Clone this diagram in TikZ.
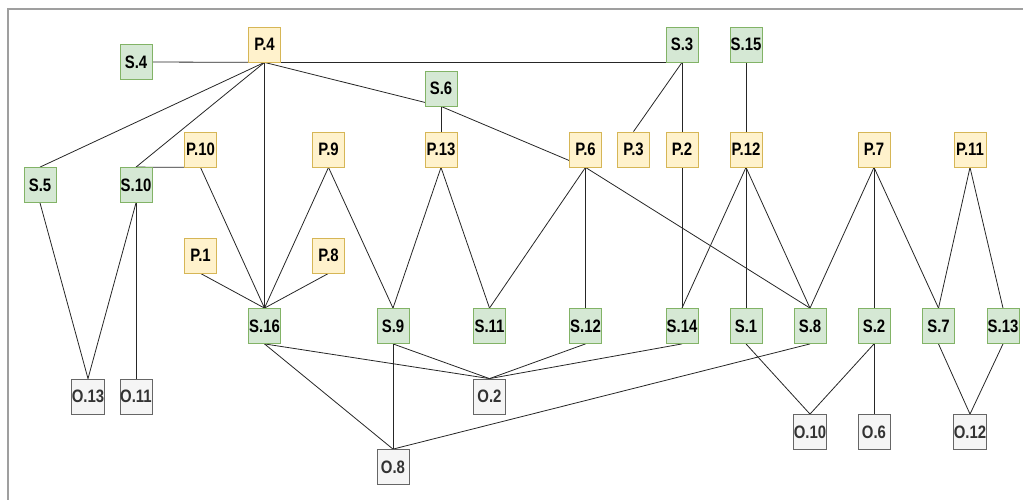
\documentclass[tikz,border=0pt]{standalone}
\usepackage{fontspec}
\setmainfont{Liberation Sans}
\newfontfamily\lblfont[FakeStretch=0.83]{Liberation Sans}
\usetikzlibrary{backgrounds}
\definecolor{gfill}{HTML}{D5E8D4}\definecolor{gdraw}{HTML}{82B366}
\definecolor{yfill}{HTML}{FFF2CC}\definecolor{ydraw}{HTML}{D6B656}
\definecolor{ofill}{HTML}{F5F5F5}\definecolor{odraw}{HTML}{666666}
\definecolor{otext}{HTML}{333333}
\tikzset{
  box/.style={minimum width=32pt,minimum height=35pt,inner sep=0pt,line width=0.8pt,font=\lblfont\fontsize{18}{20}\selectfont\bfseries},
  snode/.style={box,fill=gfill,draw=gdraw},
  pnode/.style={box,fill=yfill,draw=ydraw},
  onode/.style={box,fill=ofill,draw=odraw,text=otext},
  edge/.style={line width=0.8pt,draw=black!85},
}
\begin{document}
\begin{tikzpicture}[x=1pt,y=-1pt]
\useasboundingbox (0,0) rectangle (1023,499);
\draw[line width=1.5pt,draw=gray!75] (8,9) rectangle (1040,520);
% top
\node[pnode] (p4) at (264.5,44.5) {P.4};
\node[snode] (s3) at (682,44.5) {S.3};
\node[snode] (s15) at (746,44.5) {S.15};
\node[snode] (s4) at (136,62) {S.4};
\node[snode] (s6) at (441,88.5) {S.6};
% P row
\node[pnode] (p10) at (200.5,149.5) {P.10};
\node[pnode] (p9) at (328.5,149.5) {P.9};
\node[pnode] (p13) at (441,149.5) {P.13};
\node[pnode] (p6) at (585.5,149.5) {P.6};
\node[pnode] (p3) at (633.5,149.5) {P.3};
\node[pnode] (p2) at (682,149.5) {P.2};
\node[pnode] (p12) at (746,149.5) {P.12};
\node[pnode] (p7) at (874,149.5) {P.7};
\node[pnode] (p11) at (970,149.5) {P.11};
\node[snode] (s5) at (40,185) {S.5};
\node[snode] (s10) at (136,185) {S.10};
\node[pnode] (p1) at (200.5,255.5) {P.1};
\node[pnode] (p8) at (328.5,255.5) {P.8};
% S row
\node[snode] (s16) at (264.5,326) {S.16};
\node[snode] (s9) at (393,326) {S.9};
\node[snode] (s11) at (489.5,326) {S.11};
\node[snode] (s12) at (585.5,326) {S.12};
\node[snode] (s14) at (682,326) {S.14};
\node[snode] (s1) at (746,326) {S.1};
\node[snode] (s8) at (810,326) {S.8};
\node[snode] (s2) at (874,326) {S.2};
\node[snode] (s7) at (938.5,326) {S.7};
\node[snode] (s13) at (1003,326) {S.13};
% O row
\node[onode] (o13) at (88,396.5) {O.13};
\node[onode] (o11) at (136,396.5) {O.11};
\node[onode] (o2) at (489.5,396.5) {O.2};
\node[onode] (o10) at (810,432) {O.10};
\node[onode] (o6) at (874,432) {O.6};
\node[onode] (o12) at (970,432) {O.12};
\node[onode] (o8) at (393,467) {O.8};
\begin{pgfonlayer}{background}
\draw[edge] (s4.east) -- (p4.south) -- (s3.south);
\draw[edge] (p4.south) -- (s5.north);
\draw[edge] (p4.south) -- (s10.north);
\draw[edge] (p4.south) -- (s16.north);
\draw[edge] (p4.south) -- (s6.south);
\draw[edge] (s6.south) -- (p13.north);
\draw[edge] (s6.south) -- (p6.south);
\draw[edge] (s3.south) -- (p3.north);
\draw[edge] (s3.south) -- (p2.north);
\draw[edge] (p2.south) -- (s14.north);
\draw[edge] (s15.south) -- (p12.north);
\draw[edge] (p10.south) -- (s10.north);
\draw[edge] (p10.south) -- (s16.north);
\draw[edge] (p1.south) -- (s16.north);
\draw[edge] (p8.south) -- (s16.north);
\draw[edge] (p9.south) -- (s16.north);
\draw[edge] (p9.south) -- (s9.north);
\draw[edge] (p13.south) -- (s9.north);
\draw[edge] (p13.south) -- (s11.north);
\draw[edge] (p6.south) -- (s11.north);
\draw[edge] (p6.south) -- (s12.north);
\draw[edge] (p6.south) -- (s8.north);
\draw[edge] (p12.south) -- (s14.north);
\draw[edge] (p12.south) -- (s1.north);
\draw[edge] (p12.south) -- (s8.north);
\draw[edge] (p7.south) -- (s8.north);
\draw[edge] (p7.south) -- (s2.north);
\draw[edge] (p7.south) -- (s7.north);
\draw[edge] (p11.south) -- (s7.north);
\draw[edge] (p11.south) -- (s13.north);
\draw[edge] (s5.south) -- (o13.north);
\draw[edge] (s10.south) -- (o13.north);
\draw[edge] (s10.south) -- (o11.north);
\draw[edge] (s16.south) -- (o2.north);
\draw[edge] (s9.south) -- (o2.north);
\draw[edge] (s12.south) -- (o2.north);
\draw[edge] (s14.south) -- (o2.north);
\draw[edge] (s16.south) -- (o8.north);
\draw[edge] (s9.south) -- (o8.north);
\draw[edge] (s8.south) -- (o8.north);
\draw[edge] (s1.south) -- (o10.north);
\draw[edge] (s2.south) -- (o10.north);
\draw[edge] (s2.south) -- (o6.north);
\draw[edge] (s7.south) -- (o12.north);
\draw[edge] (s13.south) -- (o12.north);
\end{pgfonlayer}
\end{tikzpicture}
\end{document}
